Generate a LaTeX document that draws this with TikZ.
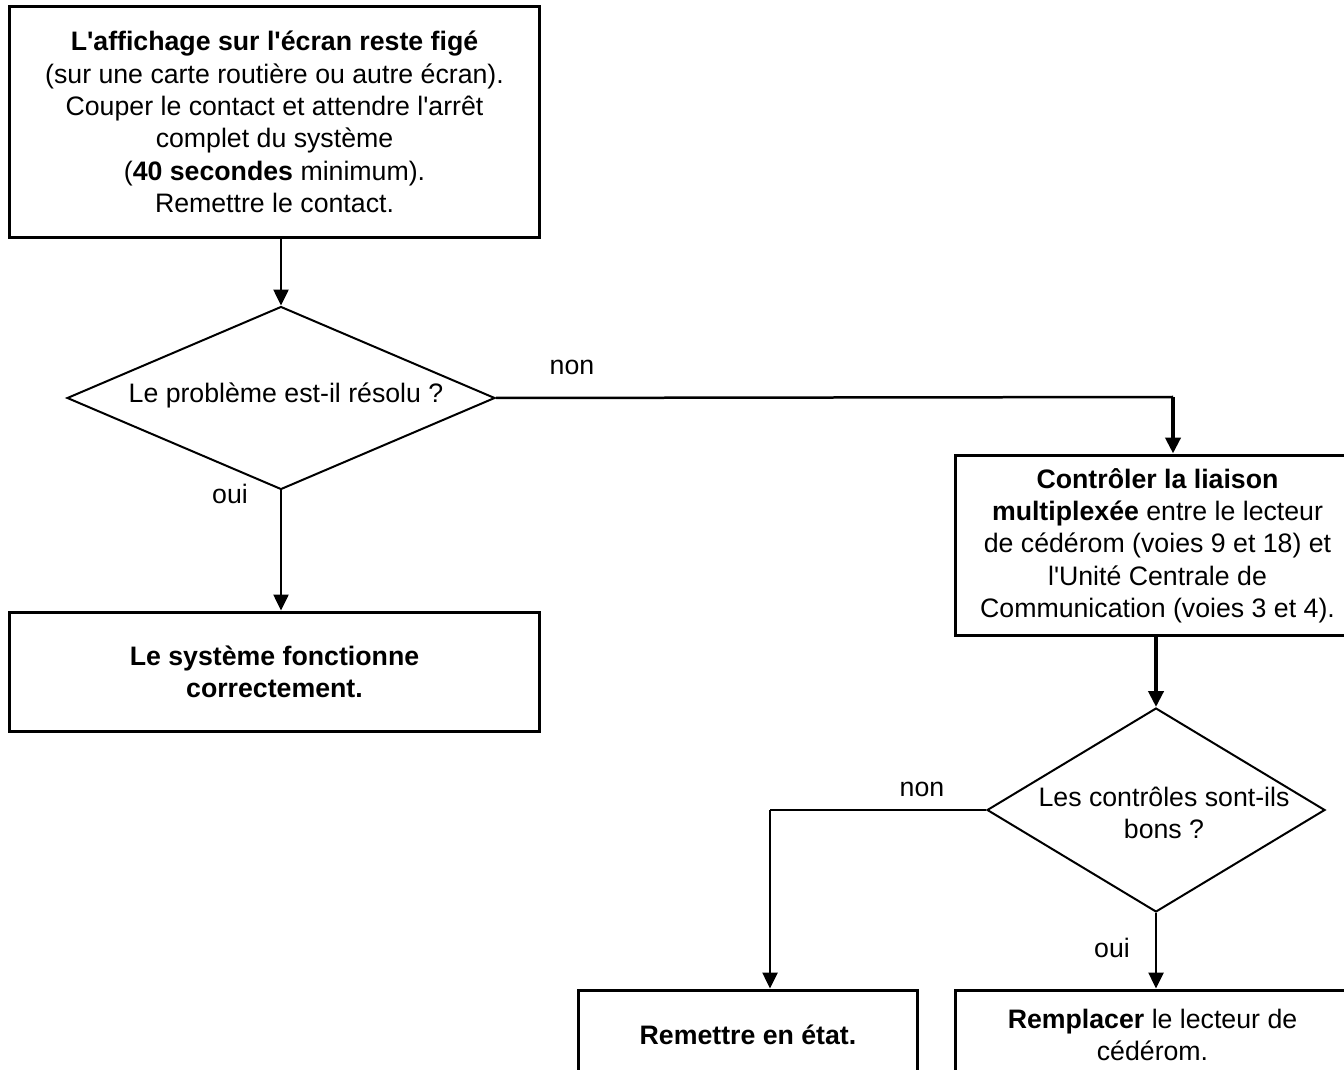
\documentclass[tikz,border=0pt]{standalone}
\usepackage{fontspec}
\setmainfont{Liberation Sans}[Ligatures=TeXOff]
\usepackage{tikz}
\usetikzlibrary{shapes.geometric,arrows.meta,positioning,calc}

\begin{document}
\begin{tikzpicture}[x=0.02cm, y=-0.02cm,
  font=\fontsize{15.2}{18.4}\selectfont,
  box/.style={draw, line width=0.06cm, rectangle, align=center, inner sep=0pt},
  decision/.style={draw, line width=0.04cm, diamond, inner sep=0pt},
  link/.style={line width=0.05cm},
  arrow/.style={line width=0.05cm, -{Triangle[length=0.32cm, width=0.3cm]}},
  bigarrow/.style={line width=0.09cm, -{Triangle[length=0.32cm, width=0.3cm]}}]
  \clip (0,0) rectangle (1344,1070);
  \useasboundingbox (0,0) rectangle (1344,1070);
  \fill[white] (0,0) rectangle (1344,1070);

  % Start
  \node[box, minimum width=10.62cm, minimum height=4.64cm] (start) at (274.5,122)
    {\textbf{L'affichage sur l'écran reste figé}\\
     (sur une carte routière ou autre écran).\\
     Couper le contact et attendre l'arrêt\\
     complet du système\\
     (\textbf{40 secondes} minimum).\\
     Remettre le contact.};

  % First question
  \node[decision, minimum width=8.56cm, minimum height=3.66cm] (q1) at (281,398) {};
  \node (q1txt) at (286,395) {Le problème est-il résolu ?};
  \draw[arrow] (q1.north |- start.south) -- (q1.north);

  % oui -> ok
  \node[box, minimum width=10.62cm, minimum height=2.4cm] (ok) at (274.5,672)
    {\textbf{Le système fonctionne}\\ \textbf{correctement.}};
  \draw[arrow] (q1.south) -- (q1.south |- ok.north);
  \node (oui1) at (230,494) {oui};

  % non -> check
  \node[box, minimum width=8.1cm, minimum height=3.62cm] (check) at (1157.5,545.5)
    {\textbf{Contrôler la liaison}\\
     \textbf{multiplexée} entre le lecteur\\
     de cédérom (voies 9 et 18) et\\
     l'Unité Centrale de\\
     Communication (voies 3 et 4).};
  \coordinate (turn1) at (1173,397);
  \draw[link] (q1.east) -- (turn1);
  \draw[bigarrow] (turn1) -- (turn1 |- check.north);
  \node (non1) at (572,367) {non};

  % Second question
  \node[decision, minimum width=6.76cm, minimum height=4.08cm] (q2) at (1156,810) {};
  \node[align=center] (q2txt) at (1164,813) {Les contrôles sont-ils\\ bons ?};
  \draw[bigarrow] (q2.north |- check.south) -- (q2.north);

  % non -> repair
  \node[box, minimum width=6.8cm, minimum height=1.8cm] (repair) at (748,1035)
    {\textbf{Remettre en état.}};
  \coordinate (turn2) at (770,810);
  \draw[link] (q2.west) -- (turn2);
  \draw[arrow] (turn2) -- (turn2 |- repair.north);
  \node (non2) at (922,789) {non};

  % oui -> replace
  \node[box, minimum width=7.9cm, minimum height=1.8cm] (replace) at (1152.5,1035)
    {\textbf{Remplacer} le lecteur de\\ cédérom.};
  \draw[arrow] (q2.south) -- (q2.south |- replace.north);
  \node (oui2) at (1112,948) {oui};
\end{tikzpicture}
\end{document}
